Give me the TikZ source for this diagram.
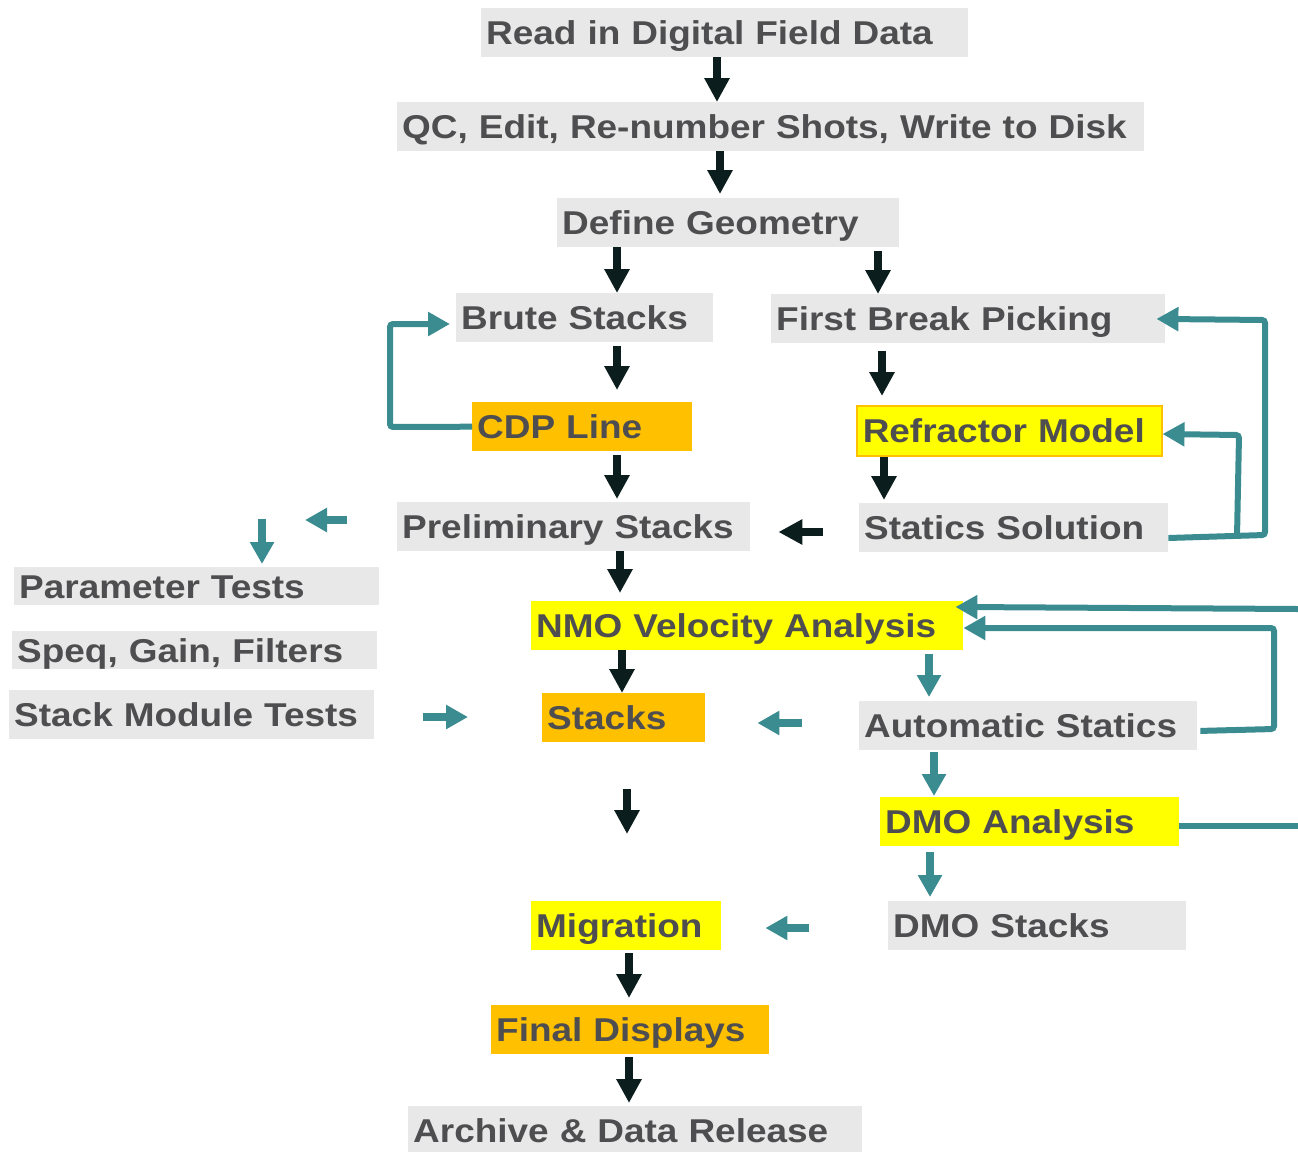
\documentclass[tikz,border=0pt]{standalone}
\usepackage{fontspec}
\setmainfont{Liberation Sans}[FakeStretch=1.12]
\usetikzlibrary{arrows.meta}
\definecolor{boxgrey}{HTML}{E8E8E8}
\definecolor{boxorange}{HTML}{FFC000}
\definecolor{boxyellow}{HTML}{FFFF00}
\definecolor{txtgrey}{HTML}{4E4E50}
\definecolor{arrdark}{HTML}{0C1D1D}
\definecolor{arrteal}{HTML}{3B8C91}
\tikzset{
    stage/.style={anchor=north west, inner xsep=5pt, inner ysep=0pt, minimum height=49pt,
        text height=24pt, text depth=0pt, align=left, text=txtgrey,
        font=\fontsize{33}{40}\selectfont\bfseries},
    greybox/.style={stage, fill=boxgrey},
    orangebox/.style={stage, fill=boxorange},
    yellowbox/.style={stage, fill=boxyellow},
    darr/.style={arrdark, line width=8pt, -{Triangle[width=24pt,length=24pt]}},
    tarr/.style={arrteal, line width=8pt, -{Triangle[width=23pt,length=22pt]}},
    tloop/.style={arrteal, line width=6pt, rounded corners=3pt, -{Triangle[width=23pt,length=22pt]}},
}
\begin{document}
\begin{tikzpicture}[x=1pt, y=-1pt]
    \useasboundingbox (0,0) rectangle (1298,1151);
    \node[greybox, text width=477pt] (read) at (481,8) {Read in Digital Field Data};
    \node[greybox, text width=737pt] (qc) at (397,102) {QC, Edit, Re-number Shots, Write to Disk};
    \node[greybox, text width=332pt] (geom) at (557,198) {Define Geometry};
    \node[greybox, text width=247pt] (brute) at (456,293) {Brute Stacks};
    \node[greybox, text width=384pt] (fbp) at (771,294) {First Break Picking};
    \node[orangebox, text width=210pt] (cdp) at (472,402) {CDP Line};
    \node[yellowbox, draw=boxorange, line width=1.5pt, minimum height=50pt, inner xsep=6pt, text width=293pt] (refr) at (856,405) {Refractor Model};
    \node[greybox, text width=343pt] (prelim) at (397,502) {Preliminary Stacks};
    \node[greybox, text width=299pt] (statics) at (859,503) {Statics Solution};
    \node[greybox, minimum height=38pt, text width=355pt] (param) at (14,567) {Parameter Tests};
    \node[greybox, minimum height=38pt, text width=355pt] (speq) at (12,631) {Speq, Gain, Filters};
    \node[greybox, text width=355pt] (stackmod) at (9,690) {Stack Module Tests};
    \node[yellowbox, text width=422pt] (nmo) at (531,601) {NMO Velocity Analysis};
    \node[orangebox, text width=153pt] (stacks) at (542,693) {Stacks};
    \node[greybox, text width=328pt] (auto) at (859,701) {Automatic Statics};
    \node[yellowbox, text width=289pt] (dmo) at (880,797) {DMO Analysis};
    \node[greybox, text width=288pt] (dmostk) at (888,901) {DMO Stacks};
    \node[yellowbox, text width=180pt] (migr) at (531,901) {Migration};
    \node[orangebox, text width=268pt] (final) at (491,1005) {Final Displays};
    \node[greybox, text width=444pt] (archive) at (408,1106) {Archive \& Data Release};

    \draw[darr] (read.south -| 717,0) -- (qc.north -| 717,0);
    \draw[darr, shorten >=4pt] (qc.south -| 720,0) -- (geom.north -| 720,0);
    \draw[darr] (geom.south -| 617,0) -- (brute.north -| 617,0);
    \draw[darr, shorten <=4pt] (geom.south -| 878,0) -- (fbp.north -| 878,0);
    \draw[darr, shorten <=4pt, shorten >=12pt] (brute.south -| 617,0) -- (cdp.north -| 617,0);
    \draw[darr, shorten <=8pt, shorten >=9pt] (fbp.south -| 882,0) -- (refr.north -| 882,0);
    \draw[darr, shorten <=4pt, shorten >=3pt] (cdp.south -| 617,0) -- (prelim.north -| 617,0);
    \draw[darr, shorten >=3pt] (refr.south -| 884,0) -- (statics.north -| 884,0);
    \draw[darr, shorten <=36pt, shorten >=28pt] (statics.west |- 0,532) -- (prelim.east |- 0,532);
    \draw[darr, shorten >=8pt] (prelim.south -| 620,0) -- (nmo.north -| 620,0);
    \draw[darr] (nmo.south -| 622,0) -- (stacks.north -| 622,0);
    \draw[darr, shorten <=47pt, shorten >=67pt] (stacks.south -| 627,0) -- (migr.north -| 627,0);
    \draw[darr, shorten <=3pt, shorten >=7pt] (migr.south -| 629,0) -- (final.north -| 629,0);
    \draw[darr, shorten <=3pt, shorten >=3pt] (final.south -| 629,0) -- (archive.north -| 629,0);

    \coordinate (ptop) at (262,519);
    \coordinate (ptip) at (305,520);
    \draw[tarr, shorten >=3pt] (ptop) -- (param.north -| ptop);
    \draw[tarr, shorten <=50pt] (prelim.west |- ptip) -- (ptip);
    \draw[tarr, shorten <=49pt, shorten >=74pt] (stackmod.east |- 0,717) -- (stacks.west |- 0,717);
    \draw[tarr, shorten <=57pt, shorten >=52pt] (auto.west |- 0,723) -- (stacks.east |- 0,723);
    \draw[tarr, shorten <=79pt, shorten >=44pt] (dmostk.west |- 0,928) -- (migr.east |- 0,928);
    \draw[tarr, shorten <=4pt, shorten >=4pt] (nmo.south -| 929,0) -- (auto.north -| 929,0);
    \draw[tarr, shorten <=2pt, shorten >=1pt] (auto.south -| 934,0) -- (dmo.north -| 934,0);
    \draw[tarr, shorten <=6pt, shorten >=4pt] (dmo.south -| 930,0) -- (dmostk.north -| 930,0);

    \draw[tloop, shorten >=6pt] (cdp.west) -- (390,427) -- (390,324) -- (brute.west |- 0,324);
    \draw[tloop, shorten >=-9pt] (statics.east |- 0,538) -- (1265,535) -- (1265,320) -- (fbp.east |- 0,319);
    \coordinate (sfork) at (1237,537);
    \draw[tloop] (sfork) -- (1239,435) -- (refr.east |- 0,434);
    \draw[tloop, shorten <=3pt] (auto.east |- 0,731) -- (1274,729) -- (1274,628) -- (nmo.east |- 0,628);
    \coordinate (redge) at (1298,609);
    \draw[tloop, shorten >=-8pt] (redge) -- (nmo.east |- 0,607);
    \coordinate (redge2) at (1298,826);
    \draw[tloop, -] (dmo.east |- 0,826) -- (redge2);
\end{tikzpicture}
\end{document}
